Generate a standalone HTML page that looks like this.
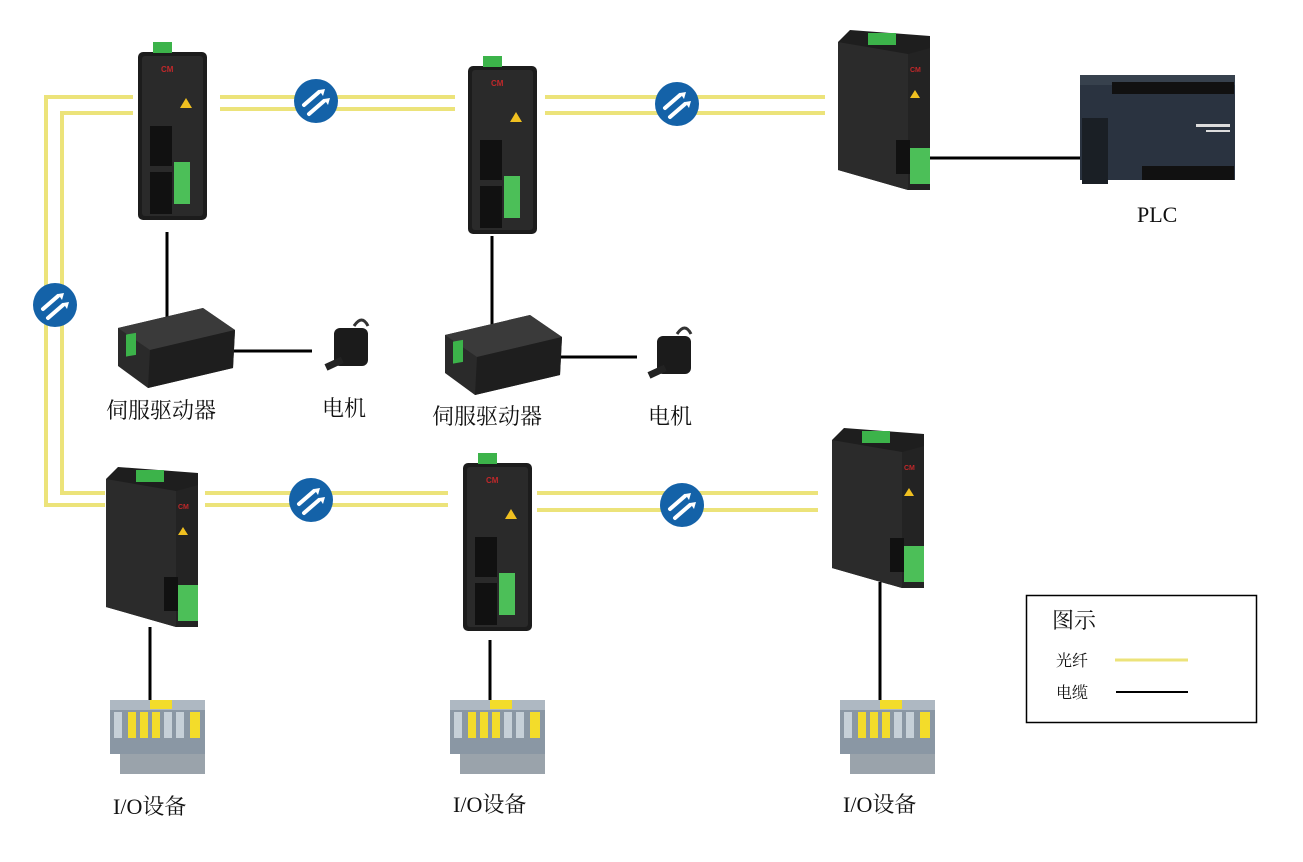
<!DOCTYPE html>
<html><head><meta charset="utf-8"><style>
html,body{margin:0;padding:0;background:#fff;}
svg{display:block}
text{font-family:"Liberation Serif","Noto Serif CJK SC",serif;fill:#111}
</style></head><body>
<svg width="1303" height="862" viewBox="0 0 1303 862" xmlns="http://www.w3.org/2000/svg">
<defs>
<g id="fib">
<circle r="22" fill="#1462a8"/>
<path d="M-12 4 L3 -9" stroke="#fff" stroke-width="4" stroke-linecap="round"/>
<path d="M3 -11 L9 -12 L7 -5 Z" fill="#fff"/>
<path d="M-7 13 L8 0" stroke="#fff" stroke-width="4" stroke-linecap="round"/>
<path d="M8 -2 L14 -3 L12 4 Z" fill="#fff"/>
</g>
<g id="front">
<rect x="0" y="0" width="69" height="168" rx="5" fill="#1c1c1c"/>
<rect x="4" y="4" width="61" height="160" rx="3" fill="#2a2a2a"/>
<rect x="15" y="-10" width="19" height="11" fill="#3cb34a"/>
<text x="23" y="20" font-size="8" fill="#c0282a" style="fill:#c0282a;font-family:'Liberation Sans',sans-serif;font-weight:bold">CM</text>
<path d="M42 56 L48 46 L54 56 Z" fill="#f0c020"/>
<rect x="12" y="74" width="22" height="40" fill="#111"/>
<rect x="12" y="120" width="22" height="42" fill="#111"/>
<rect x="36" y="110" width="16" height="42" fill="#4cbf58"/>
</g>
<g id="iso">
<path d="M0 12 L12 0 L92 6 L92 160 L70 160 L0 140 Z" fill="#1e1e1e"/>
<path d="M0 12 L70 24 L70 160 L0 140 Z" fill="#2b2b2b"/>
<path d="M70 24 L92 18 L92 160 L70 160 Z" fill="#232323"/>
<rect x="30" y="3" width="28" height="12" fill="#3cb34a"/>
<rect x="72" y="118" width="20" height="36" fill="#4cbf58"/>
<rect x="58" y="110" width="14" height="34" fill="#111"/>
<path d="M72 68 L77 60 L82 68 Z" fill="#f0c020"/>
<text x="72" y="42" font-size="7" style="fill:#c0282a;font-family:'Liberation Sans',sans-serif;font-weight:bold">CM</text>
</g>
<g id="drive">
<path d="M0 20 L85 0 L117 22 L115 60 L30 80 L0 58 Z" fill="#2a2a2a"/>
<path d="M0 20 L85 0 L117 22 L32 42 Z" fill="#3a3a3a"/>
<path d="M32 42 L117 22 L115 60 L30 80 Z" fill="#1e1e1e"/>
<rect x="8" y="28" width="10" height="22" fill="#3cb34a" transform="skewY(-10)"/>
</g>
<g id="motor">
<rect x="-16" y="-20" width="34" height="38" rx="6" fill="#1b1b1b"/>
<rect x="-30" y="4" width="18" height="7" fill="#222" transform="rotate(-25)"/>
<path d="M4 -22 q8 -12 14 0" stroke="#333" stroke-width="3" fill="none"/>
</g>
<g id="io">
<rect x="0" y="8" width="95" height="46" fill="#8a97a4"/>
<rect x="0" y="0" width="95" height="10" fill="#aeb8c2"/>
<rect x="4" y="12" width="8" height="26" fill="#c6d0d8"/>
<rect x="18" y="12" width="8" height="26" fill="#f3dc2a"/>
<rect x="30" y="12" width="8" height="26" fill="#f3dc2a"/>
<rect x="42" y="12" width="8" height="26" fill="#f3dc2a"/>
<rect x="54" y="12" width="8" height="26" fill="#c6d0d8"/>
<rect x="66" y="12" width="8" height="26" fill="#c6d0d8"/>
<rect x="80" y="12" width="10" height="26" fill="#f3dc2a"/>
<rect x="40" y="0" width="22" height="9" fill="#f3dc2a"/>
<rect x="10" y="54" width="85" height="20" fill="#9aa3ab"/>
</g>
</defs>

<!-- fiber lines -->
<g stroke="#ece37a" stroke-width="4" fill="none">
<path d="M133 97 H46 V505 H105"/>
<path d="M133 113 H62 V493 H105"/>
<path d="M220 97 H455 M220 109 H455"/>
<path d="M545 97 H825 M545 113 H825"/>
<path d="M205 493 H448 M205 505 H448"/>
<path d="M537 493 H818 M537 510 H818"/>
</g>
<!-- cables -->
<g stroke="#000" stroke-width="3">
<path d="M167 232 V318 M492 236 V326 M930 158 H1082 M222 351 H312 M548 357 H637 M150 627 V700 M490 640 V700 M880 582 V700"/>
</g>

<use href="#fib" x="316" y="101"/>
<use href="#fib" x="677" y="104"/>
<use href="#fib" x="55" y="305"/>
<use href="#fib" x="311" y="500"/>
<use href="#fib" x="682" y="505"/>

<use href="#front" x="138" y="52"/>
<use href="#front" x="468" y="66"/>
<use href="#front" x="463" y="463"/>
<use href="#iso" x="838" y="30"/>
<use href="#iso" x="106" y="467"/>
<use href="#iso" x="832" y="428"/>

<use href="#drive" x="118" y="308"/>
<use href="#drive" x="445" y="315"/>
<use href="#motor" x="350" y="348"/>
<use href="#motor" x="673" y="356"/>

<!-- PLC -->
<g>
<rect x="1080" y="75" width="155" height="105" fill="#2a3340"/>
<rect x="1080" y="75" width="155" height="10" fill="#37414d"/>
<rect x="1112" y="82" width="122" height="12" fill="#111"/>
<rect x="1142" y="166" width="92" height="14" fill="#111"/>
<rect x="1082" y="118" width="26" height="66" fill="#1a1f25"/>
<rect x="1196" y="124" width="34" height="3" fill="#ddd"/>
<rect x="1206" y="130" width="24" height="2" fill="#ddd"/>
</g>

<use href="#io" x="110" y="700"/>
<use href="#io" x="450" y="700"/>
<use href="#io" x="840" y="700"/>

<g font-size="22">
<text x="1137" y="222">PLC</text>
<text x="106" y="418">伺服驱动器</text>
<text x="322" y="416">电机</text>
<text x="432" y="424">伺服驱动器</text>
<text x="648" y="424">电机</text>
<text x="113" y="814">I/O设备</text>
<text x="453" y="812">I/O设备</text>
<text x="843" y="812">I/O设备</text>
</g>

<rect x="1026.5" y="595.5" width="230" height="127" fill="none" stroke="#000" stroke-width="1.5"/>
<text x="1052" y="628" font-size="22">图示</text>
<text x="1056" y="666" font-size="16">光纤</text>
<text x="1056" y="698" font-size="16">电缆</text>
<path d="M1115 660 H1188" stroke="#ece37a" stroke-width="3"/>
<path d="M1116 692 H1188" stroke="#000" stroke-width="2"/>
</svg>
</body></html>
